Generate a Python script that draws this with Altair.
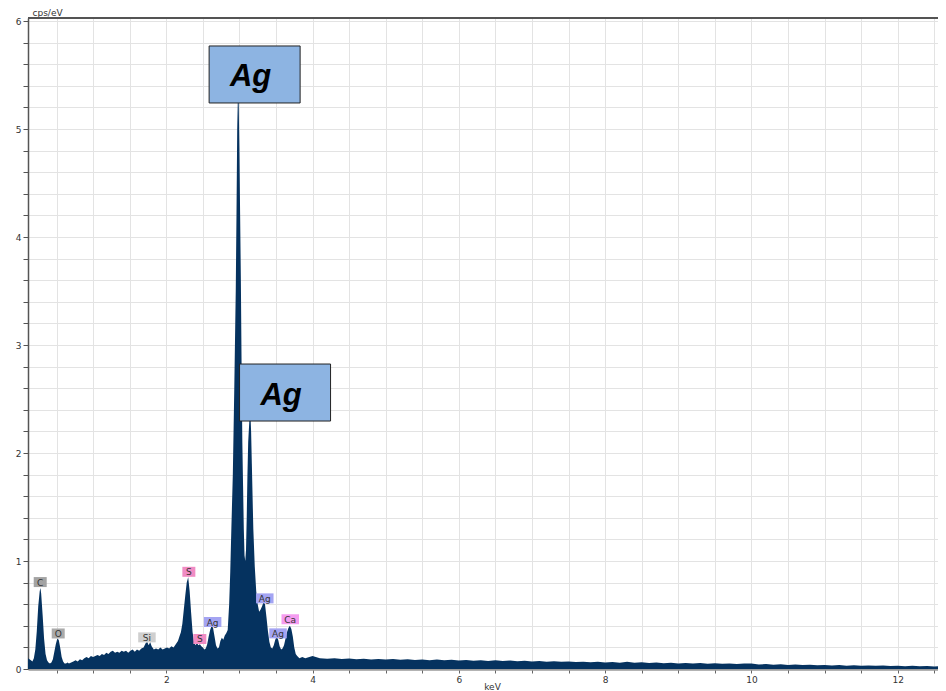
import altair as alt
import pandas as pd

# ---- spectrum (keV, cps/eV) ----
kev = [
    0.11, 0.13, 0.15, 0.17, 0.19, 0.21, 0.23, 0.25, 0.27, 0.28, 0.29, 0.31, 0.33, 0.35, 0.37, 0.39,
    0.41, 0.43, 0.45, 0.47, 0.49, 0.51, 0.53, 0.55, 0.57, 0.59, 0.61, 0.63, 0.65, 0.67, 0.70, 0.73,
    0.76, 0.79, 0.82, 0.85, 0.88, 0.91, 0.94, 0.97, 1.00, 1.03, 1.06, 1.09, 1.12, 1.15, 1.18, 1.21,
    1.24, 1.27, 1.30, 1.33, 1.36, 1.39, 1.42, 1.45, 1.48, 1.51, 1.54, 1.57, 1.60, 1.63, 1.66, 1.69,
    1.72, 1.74, 1.76, 1.78, 1.80, 1.83, 1.86, 1.89, 1.92, 1.95, 1.98, 2.01, 2.04, 2.07, 2.10, 2.13,
    2.16, 2.18, 2.20, 2.22, 2.24, 2.26, 2.28, 2.30, 2.32, 2.34, 2.36, 2.38, 2.40, 2.42, 2.44, 2.46,
    2.48, 2.50, 2.52, 2.54, 2.56, 2.58, 2.60, 2.62, 2.64, 2.66, 2.68, 2.70, 2.72, 2.74, 2.76, 2.78,
    2.80, 2.82, 2.84, 2.86, 2.875, 2.89, 2.91, 2.93, 2.95, 2.96, 2.97, 2.98, 2.99, 3.00, 3.01, 3.02,
    3.03, 3.04, 3.05, 3.06, 3.07, 3.08, 3.09, 3.10, 3.11, 3.12, 3.14, 3.15, 3.16, 3.17, 3.19, 3.21,
    3.23, 3.25, 3.27, 3.29, 3.31, 3.33, 3.35, 3.37, 3.39, 3.41, 3.43, 3.45, 3.47, 3.49, 3.51, 3.53,
    3.55, 3.57, 3.59, 3.61, 3.63, 3.65, 3.67, 3.69, 3.71, 3.73, 3.75, 3.77, 3.79, 3.82, 3.86,
    3.9, 4.0, 4.1, 4.2, 4.3, 4.4, 4.5, 4.6, 4.7, 4.8, 4.9, 5.0, 5.1, 5.2, 5.3, 5.4, 5.5, 5.6, 5.7,
    5.8, 5.9, 6.0, 6.1, 6.2, 6.3, 6.4, 6.5, 6.6, 6.7, 6.8, 6.9, 7.0, 7.1, 7.2, 7.3, 7.4, 7.5, 7.6,
    7.7, 7.8, 7.9, 8.0, 8.1, 8.2, 8.3, 8.4, 8.5, 8.6, 8.7, 8.8, 8.9, 9.0, 9.1, 9.2, 9.3, 9.4, 9.5,
    9.6, 9.7, 9.8, 9.9, 10.0, 10.1, 10.2, 10.3, 10.4, 10.5, 10.6, 10.7, 10.8, 10.9, 11.0, 11.1,
    11.2, 11.3, 11.4, 11.5, 11.6, 11.7, 11.8, 11.9, 12.0, 12.1, 12.2, 12.3, 12.4, 12.5, 12.6, 12.7,
]
cps = [
    0.10, 0.09, 0.08, 0.07, 0.10, 0.18, 0.35, 0.58, 0.72, 0.75, 0.70, 0.50, 0.28, 0.14, 0.08, 0.06,
    0.05, 0.06, 0.09, 0.16, 0.23, 0.28, 0.27, 0.20, 0.11, 0.07, 0.05, 0.05, 0.06, 0.05, 0.06, 0.07,
    0.08, 0.07, 0.09, 0.08, 0.10, 0.11, 0.10, 0.12, 0.11, 0.12, 0.13, 0.12, 0.14, 0.13, 0.15, 0.14,
    0.16, 0.17, 0.15, 0.16, 0.15, 0.17, 0.16, 0.17, 0.15, 0.17, 0.18, 0.16, 0.18, 0.17, 0.19, 0.20,
    0.24, 0.25, 0.22, 0.25, 0.21, 0.18, 0.19, 0.18, 0.20, 0.18, 0.19, 0.20, 0.19, 0.21, 0.20, 0.23,
    0.26, 0.30, 0.34, 0.42, 0.55, 0.68, 0.80, 0.85, 0.72, 0.52, 0.34, 0.25, 0.22, 0.24, 0.22, 0.23,
    0.21, 0.20, 0.18, 0.19, 0.23, 0.30, 0.36, 0.40, 0.38, 0.30, 0.22, 0.19, 0.20, 0.26, 0.29, 0.27,
    0.31, 0.33, 0.36, 0.60, 0.90, 1.30, 1.80, 2.60, 3.50, 4.20, 5.00, 5.32, 5.25, 4.80, 4.20, 3.60,
    2.80, 2.10, 1.70, 1.30, 1.05, 1.00, 1.10, 1.40, 1.80, 2.10, 2.35, 2.37, 2.20, 1.90, 1.30, 0.95,
    0.72, 0.60, 0.53, 0.55, 0.58, 0.62, 0.60, 0.48, 0.35, 0.25, 0.20, 0.19, 0.22, 0.27, 0.30, 0.27,
    0.21, 0.18, 0.19, 0.22, 0.28, 0.34, 0.38, 0.40, 0.37, 0.30, 0.20, 0.14, 0.12, 0.10, 0.11,
    0.10, 0.12, 0.10, 0.095, 0.10, 0.092, 0.098, 0.09, 0.095, 0.088, 0.093, 0.087, 0.092, 0.085,
    0.09, 0.083, 0.088, 0.082, 0.087, 0.080, 0.085, 0.078, 0.083, 0.077, 0.082, 0.075, 0.08, 0.074,
    0.078, 0.072, 0.076, 0.07, 0.074, 0.068, 0.072, 0.066, 0.07, 0.064, 0.068, 0.062, 0.066, 0.06,
    0.064, 0.058, 0.066, 0.057, 0.062, 0.056, 0.06, 0.054, 0.058, 0.052, 0.056, 0.05, 0.055, 0.049,
    0.054, 0.048, 0.052, 0.047, 0.051, 0.05, 0.042, 0.046, 0.04, 0.044, 0.038, 0.042, 0.036, 0.04,
    0.035, 0.038, 0.033, 0.036, 0.031, 0.034, 0.03, 0.033, 0.029, 0.032, 0.028, 0.03, 0.026, 0.029,
    0.025, 0.027, 0.024, 0.026, 0.023,
]

# ---- small element labels ----
lab_text = ["C", "O", "Si", "S", "S", "Ag", "Ag", "Ag", "Ca"]
lab_kev = [0.277, 0.523, 1.736, 2.309, 2.459, 2.634, 3.347, 3.528, 3.695]
lab_cps = [0.805, 0.329, 0.293, 0.900, 0.278, 0.435, 0.654, 0.330, 0.460]
lab_color = ["#a3a3a3", "#aaaaaa", "#cfcfcf", "#f08cc4", "#f08cc4", "#a4a4f2", "#a4a4f2",
             "#a4a4f2", "#f59cf0"]

# ---- big callouts ----
big_text = ["Ag", "Ag"]
big_kev = [3.208, 3.624]
big_cps = [5.505, 2.560]

y_ticks = [0, 0.2, 0.4, 0.6, 0.8, 1, 1.2, 1.4, 1.6, 1.8, 2, 2.2, 2.4, 2.6, 2.8, 3, 3.2, 3.4,
           3.6, 3.8, 4, 4.2, 4.4, 4.6, 4.8, 5, 5.2, 5.4, 5.6, 5.8, 6]
x_ticks = [0.5, 1, 1.5, 2, 2.5, 3, 3.5, 4, 4.5, 5, 5.5, 6, 6.5, 7, 7.5, 8, 8.5, 9, 9.5, 10,
           10.5, 11, 11.5, 12, 12.5]

spec = pd.DataFrame({"x": kev, "y": cps})
labs = pd.DataFrame({"x": lab_kev, "y": lab_cps, "t": lab_text, "c": lab_color})
labs["n"] = labs["t"].str.len()
bigs = pd.DataFrame({"x": big_kev, "y": big_cps, "t": big_text})

xs = alt.Scale(domain=[0.11, 12.55], nice=False, zero=False)
ys = alt.Scale(domain=[0, 6.028], nice=False, zero=False)
FONT = "DejaVu Sans"

area = alt.Chart(spec).mark_area(color="#05325f", interpolate="linear", clip=True).encode(
    x=alt.X("x:Q", scale=xs, axis=alt.Axis(
        values=x_ticks, tickCount=200,
        labelExpr="datum.value % 2 === 0 ? format(datum.value, 'd') : ''",
        labelOverlap=False, labelBound=False, labelFlush=False,
        grid=True, gridColor="#e3e3e3", tickColor="#666", tickSize=4,
        domainColor="#9a9a9a", domainWidth=2.5, labelFontSize=9, labelColor="#333",
        labelFont=FONT, labelPadding=2, title="keV", titleFont=FONT, titleFontSize=9,
        titleFontWeight="normal", titleColor="#333", titleX=464, titleY=20,
        titleBaseline="alphabetic")),
    y=alt.Y("y:Q", scale=ys, axis=alt.Axis(
        values=y_ticks, tickCount=200,
        labelExpr="datum.value % 1 === 0 ? format(datum.value, 'd') : ''",
        labelOverlap=False, labelBound=False, labelFlush=False,
        grid=True, gridColor="#e3e3e3", tickColor="#555", tickSize=5,
        domainColor="#555", domainWidth=1.5, labelFontSize=9, labelColor="#333",
        labelFont=FONT, labelPadding=2, title="cps/eV", titleFont=FONT, titleFontSize=9,
        titleFontWeight="normal", titleColor="#333", titleAngle=0, titleAlign="left",
        titleBaseline="alphabetic", titleX=4, titleY=-3)),
)

enc = dict(x=alt.X("x:Q", scale=xs), y=alt.Y("y:Q", scale=ys))

top_border = alt.Chart(spec).mark_rule(color="#555", strokeWidth=1.5).encode(y=alt.value(0))

box1 = alt.Chart(labs).transform_filter("datum.n == 1").mark_rect(width=13, height=10).encode(
    color=alt.Color("c:N", scale=None), **enc)
box2 = alt.Chart(labs).transform_filter("datum.n == 2").mark_rect(width=17.5, height=10).encode(
    color=alt.Color("c:N", scale=None), **enc)
ltxt = alt.Chart(labs).mark_text(font=FONT, fontSize=9, color="#333", baseline="middle",
                                 dy=0.5).encode(text="t:N", **enc)

bbox = alt.Chart(bigs).mark_rect(width=91, height=57, fill="#8db4e2", stroke="#222",
                                 strokeWidth=1).encode(**enc)
btxt = alt.Chart(bigs).mark_text(font="Liberation Sans", fontSize=31, fontWeight="bold",
                                 fontStyle="italic", color="#000", baseline="middle",
                                 dx=-4, dy=3).encode(text="t:N", **enc)

chart = alt.layer(area, top_border, box1, box2, ltxt, bbox, btxt).properties(
    width=910, height=651,
    autosize=alt.AutoSizeParams(type="none"),
    padding={"left": 20, "top": 10, "right": 0, "bottom": 22},
).configure_view(strokeWidth=0).configure(background="white")

chart.save("out.html", embed_options={"renderer": "svg", "actions": False})
